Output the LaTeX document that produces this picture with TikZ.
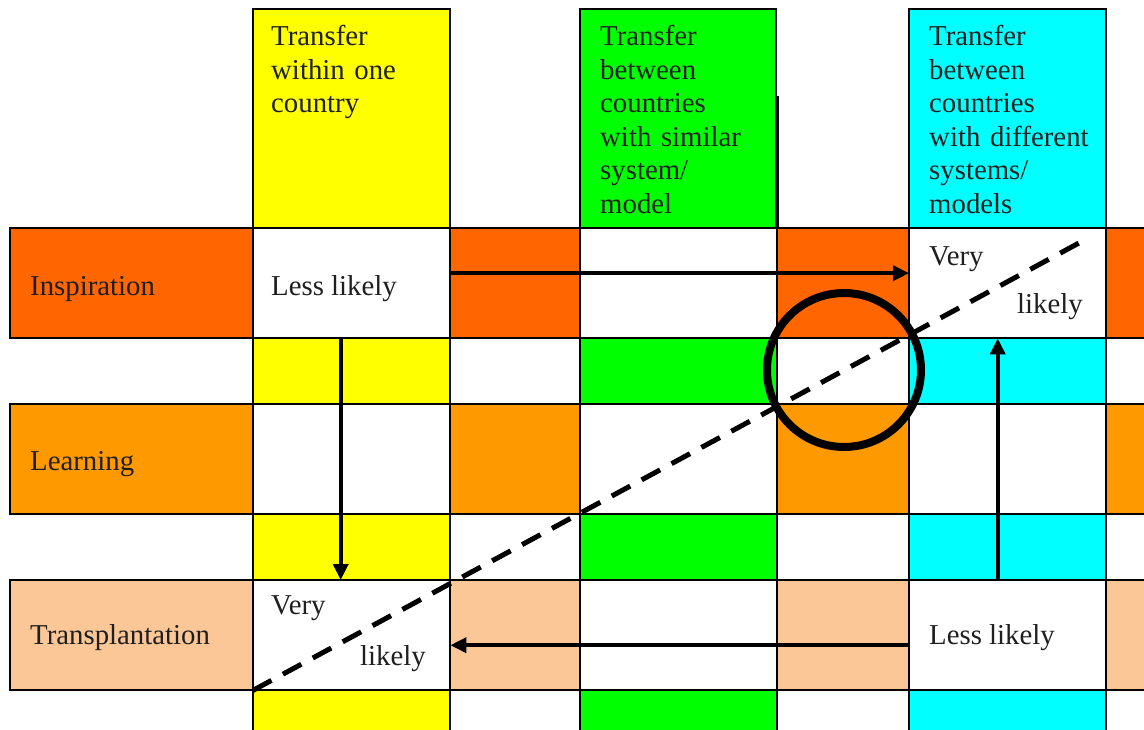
\documentclass[tikz,border=0pt]{standalone}
\usepackage{fontspec}
\setmainfont{Liberation Serif}
\newfontfamily\tableserif{Liberation Serif}
\usetikzlibrary{arrows.meta}

\definecolor{colYellow}{HTML}{FFFF00}
\definecolor{colGreen}{HTML}{00FF00}
\definecolor{colCyan}{HTML}{00FFFF}
\definecolor{bandInsp}{HTML}{FF6600}
\definecolor{bandLearn}{HTML}{FF9900}
\definecolor{bandTrans}{HTML}{FBC797}

\tikzset{
  gridline/.style={draw=black, line width=1.3pt},
  txt/.style={inner sep=0pt, font=\tableserif\fontsize{28.8}{33.5}\selectfont, text=black!88},
  hdrtxt/.style={txt, text width=185pt, align=left, anchor=base west},
  cellbox/.style={rectangle, inner sep=0pt, anchor=north west,
                  minimum width=197pt, minimum height=110pt},
  flow/.style={line width=3.6pt, -{Triangle[length=16pt,width=15pt]}},
  divide/.style={line width=5pt, dash pattern=on 21pt off 13pt},
}

\begin{document}
\begin{tikzpicture}[x=1pt, y=-1pt]
\clip (0,0) rectangle (1144,730);
\fill[white] (0,0) rectangle (1144,730);

% column headers
\filldraw[fill=colYellow, gridline] (253,9) rectangle (450,228);
\filldraw[fill=colGreen,  gridline] (580,9) rectangle (776,228);
\filldraw[fill=colCyan,   gridline] (909,9) rectangle (1106,228);
\draw[line width=2.2pt] (777.5,96) -- (777.5,228);

% bands: the three process rows
\foreach \ya/\yb/\band in {228/338/bandInsp, 404/514/bandLearn, 580/690/bandTrans}{
  \fill[\band] (10,\ya) rectangle (253,\yb);
  \fill[\band] (450,\ya) rectangle (580,\yb);
  \fill[\band] (777,\ya) rectangle (909,\yb);
  \fill[\band] (1106,\ya) rectangle (1150,\yb);
  \draw[gridline] (10,\ya) rectangle (253,\yb);
}
% spacer rows: column colours continue
\foreach \ya/\yb in {338/404, 514/580, 690/740}{
  \fill[colYellow] (253,\ya) rectangle (450,\yb);
  \fill[colGreen]  (580,\ya) rectangle (777,\yb);
  \fill[colCyan]   (909,\ya) rectangle (1106,\yb);
}

% table rules
\foreach \y in {228,338,404,514,580,690}
  \draw[gridline] (253,\y) -- (1150,\y);
\foreach \x in {253,450,580,777,909,1106}
  \draw[gridline] (\x,228) -- (\x,740);

% named cells used by the connectors
\node[cellbox] (c11) at (253,228) {};
\node[cellbox] (c13) at (909,228) {};
\node[cellbox] (c31) at (253,580) {};
\node[cellbox] (c33) at (909,580) {};
\coordinate (dashEnd) at (1090,237);

% header texts
\node[hdrtxt] (hA) at (271,46) {Transfer\\within one\\country};
\node[hdrtxt] (hB) at (600,46) {Transfer\\between\\countries\\with similar\\system/\\model};
\node[hdrtxt] (hC) at (929,46) {Transfer\\between\\countries\\with different\\systems/\\models};

% row labels
\node[txt, anchor=base west] (lInsp)  at (30,295) {Inspiration};
\node[txt, anchor=base west] (lLearn) at (30,470) {Learning};
\node[txt, anchor=base west] (lTrans) at (30,644) {Transplantation};

% cell texts
\node[txt, anchor=base west] (t11)  at (271,295) {Less likely};
\node[txt, anchor=base west] (t13a) at (929,266) {Very};
\node[txt, anchor=base west] (t13b) at (1017,313) {likely};
\node[txt, anchor=base west] (t31a) at (271,614) {Very};
\node[txt, anchor=base west] (t31b) at (360,665) {likely};
\node[txt, anchor=base west] (t33)  at (929,644) {Less likely};

% diagonal divide and the highlighted crossing
\draw[divide] (c31.south west) -- (dashEnd);
\node[draw, circle, line width=8pt, minimum size=154pt, inner sep=0pt] (ring) at (844,370) {};

% transfer arrows
\draw[flow] ([yshift=10pt]c11.east) -- ([yshift=10pt]c13.west);
\draw[flow] ([xshift=-11pt]c11.south) -- ([xshift=-11pt]c31.north);
\draw[flow] ([xshift=-10pt]c33.north) -- ([xshift=-10pt]c13.south);
\draw[flow] ([yshift=-10pt]c33.west) -- ([yshift=-10pt]c31.east);
\end{tikzpicture}
\end{document}
